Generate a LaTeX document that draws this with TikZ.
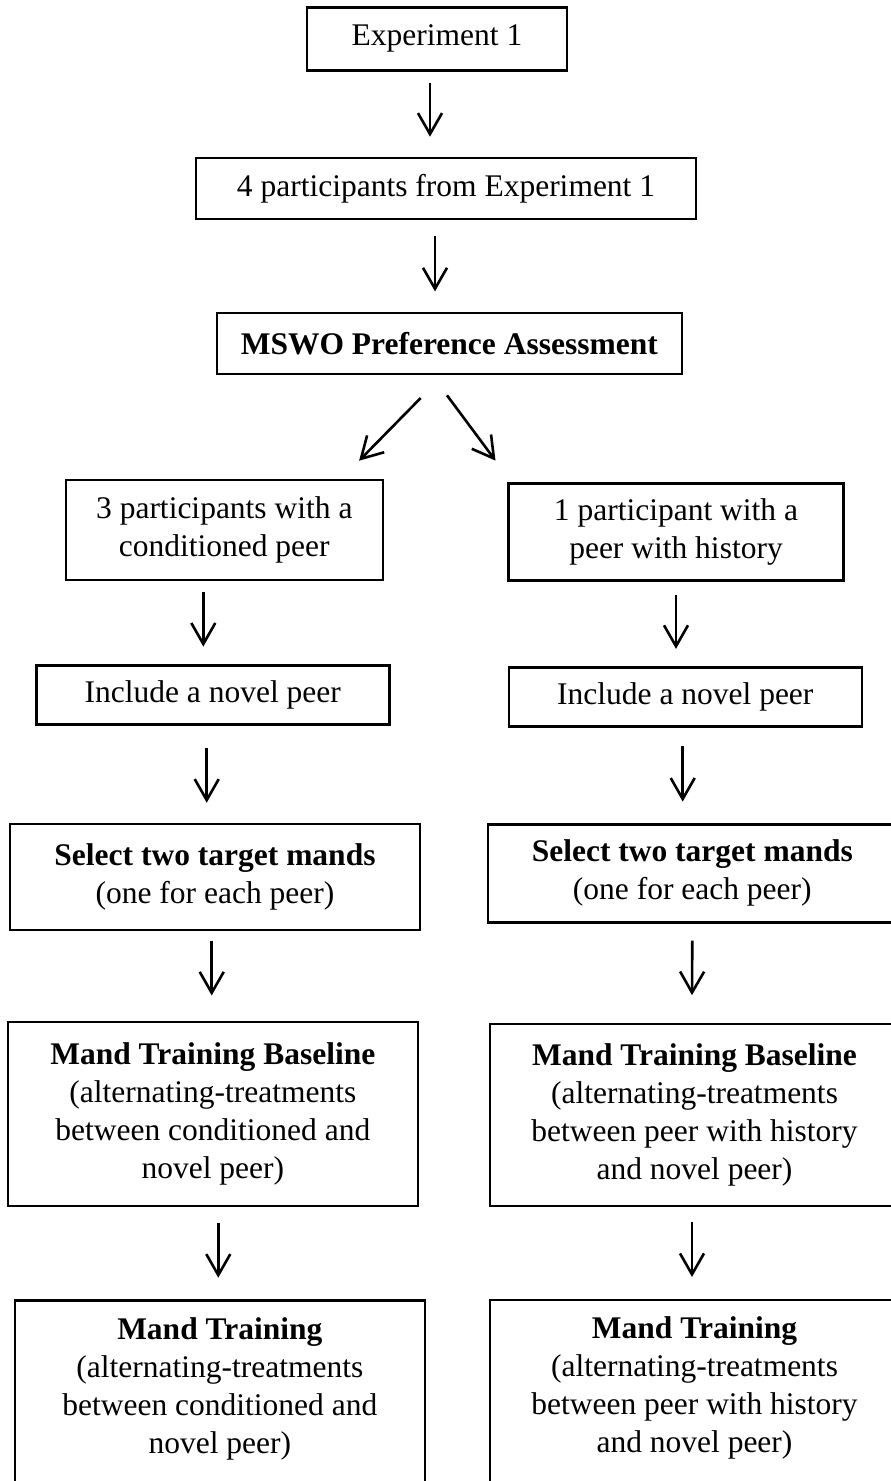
\documentclass[tikz,border=0pt]{standalone}
\usepackage{fontspec}
\setmainfont{Liberation Serif}
\usetikzlibrary{arrows.meta}

\begin{document}
\begin{tikzpicture}[x=1pt, y=-1pt,
  box/.style = {shape=rectangle, draw, line width=2.6pt,
    align=center, inner sep=0pt,
    font=\fontsize{31.5}{38}\selectfont},
  arr/.style = {line width=2.6pt,
    -{Straight Barb[length=21pt,width=24pt]}}]
  \path[use as bounding box, clip] (0,0) rectangle (891,1481);
  \node[box, minimum width=260pt, minimum height=63pt] (exp) at (437,38.7) {Experiment 1};
  \node[box, minimum width=500pt, minimum height=61pt] (parts) at (446,188.5) {4 participants from Experiment 1};
  \node[box, minimum width=465pt, minimum height=61pt] (mswo) at (449.3,343.5) {\textbf{MSWO Preference Assessment}};
  \node[box, minimum width=317pt, minimum height=100pt] (condA) at (224.3,530) {3 participants with a\\conditioned peer};
  \node[box, minimum width=335pt, minimum height=97pt] (histB) at (676,531.7) {1 participant with a\\peer with history};
  \node[box, minimum width=353pt, minimum height=59pt] (novelA) at (212.7,694.7) {Include a novel peer};
  \node[box, minimum width=353pt, minimum height=59pt] (novelB) at (685.3,697) {Include a novel peer};
  \node[box, minimum width=410pt, minimum height=106pt] (selA) at (215,877) {\textbf{Select two target mands}\\(one for each peer)};
  \node[box, minimum width=409pt, minimum height=98pt] (selB) at (692.3,873.2) {\textbf{Select two target mands}\\(one for each peer)};
  \node[box, minimum width=410pt, minimum height=184pt] (baseA) at (212.8,1113.8)
    {\textbf{Mand Training Baseline}\\(alternating-treatments\\between conditioned and\\novel peer)};
  \node[box, minimum width=409pt, minimum height=182pt] (baseB) at (694.5,1114.8)
    {\textbf{Mand Training Baseline}\\(alternating-treatments\\between peer with history\\and novel peer)};
  \node[box, minimum width=410pt, minimum height=200pt, text depth=31pt] (trainA) at (219.8,1400.7)
    {\textbf{Mand Training}\\(alternating-treatments\\between conditioned and\\novel peer)};
  \node[box, minimum width=409pt, minimum height=200pt, text depth=31pt] (trainB) at (694.5,1400)
    {\textbf{Mand Training}\\(alternating-treatments\\between peer with history\\and novel peer)};

  \draw[arr] ([xshift=-7pt,yshift=-11pt]exp.south) -- ([xshift=-16pt,yshift=20pt]parts.north);
  \draw[arr] ([xshift=-11pt,yshift=-16pt]parts.south) -- ([xshift=-14.3pt,yshift=20.3pt]mswo.north);
  \draw[arr] ([xshift=-28.6pt,yshift=-22.7pt]mswo.south) -- ([xshift=-25pt,yshift=18pt]condA.north east);
  \draw[arr] ([xshift=-2.3pt,yshift=-20pt]mswo.south) -- ([xshift=-11.7pt,yshift=21.3pt]histB.north west);
  \draw[arr] ([xshift=-21pt,yshift=-10.7pt]condA.south) -- ([xshift=-9.4pt,yshift=17.3pt]novelA.north);
  \draw[arr] ([yshift=-13.3pt]histB.south) -- ([xshift=-9.3pt,yshift=17.3pt]novelB.north);
  \draw[arr] ([xshift=-6pt,yshift=-22.4pt]novelA.south) -- ([xshift=-8.3pt,yshift=20pt]selA.north);
  \draw[arr] ([xshift=-2.6pt,yshift=-18.3pt]novelB.south) -- ([xshift=-9.6pt,yshift=21.3pt]selB.north);
  \draw[arr] ([xshift=-3.3pt,yshift=-9.3pt]selA.south) -- ([xshift=-1.1pt,yshift=25pt]baseA.north);
  \draw[arr] ([yshift=-17pt]selB.south) -- ([xshift=-2.5pt,yshift=27.3pt]baseB.north);
  \draw[arr] ([xshift=5.5pt,yshift=-15.7pt]baseA.south) -- ([xshift=-1.5pt,yshift=21.7pt]trainA.north);
  \draw[arr] ([xshift=-2.5pt,yshift=-15.3pt]baseB.south) -- ([xshift=-2.5pt,yshift=21.7pt]trainB.north);
\end{tikzpicture}
\end{document}
